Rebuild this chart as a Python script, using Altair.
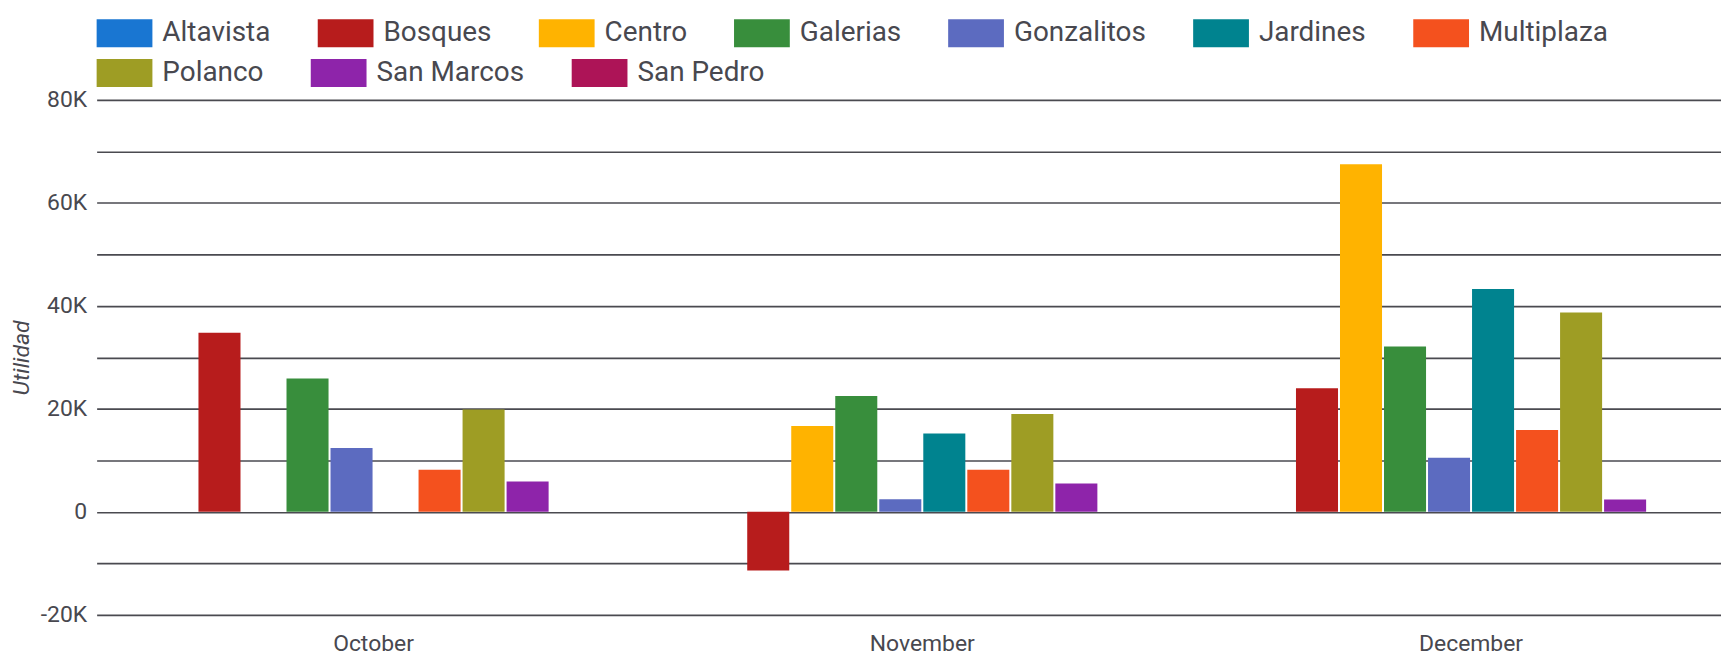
import altair as alt
import pandas as pd

months = ["October", "November", "December"]
stores = ["Altavista", "Bosques", "Centro", "Galerias", "Gonzalitos",
          "Jardines", "Multiplaza", "Polanco", "San Marcos", "San Pedro"]
colors = ["#1976d2", "#b71c1c", "#ffb300", "#388e3c", "#5c6bc0",
          "#00838f", "#f4511e", "#9e9d24", "#8e24aa", "#ad1457"]

# values per store, in month order (None = no bar)
october = [None, 34800, None, 25900, 12400, None, 8200, 19900, 5900, None]
november = [None, -11400, 16700, 22500, 2450, 15200, 8200, 19000, 5500, None]
december = [None, 24000, 67500, 32100, 10500, 43300, 15900, 38700, 2400, None]

rows = []
for m, vals in zip(months, [october, november, december]):
    for s, v in zip(stores, vals):
        if v is not None:
            rows.append({"month": m, "store": s, "value": v})
df = pd.DataFrame(rows)

TEXT = "#48484f"
GRID = "#4a4a50"
FONT = "Roboto"

y_values = list(range(-20000, 80001, 10000))

row1 = stores[:7]
row2 = stores[7:]


def legend(y):
    return alt.Legend(
        orient="none", legendX=0, legendY=y, direction="horizontal",
        title=None, padding=0,
        symbolType="M-1,-0.5H1V0.5H-1Z", symbolSize=3136,
        symbolStrokeWidth=0, symbolOpacity=1,
        labelFont=FONT, labelFontSize=28, labelColor=TEXT,
        labelOffset=10, columnPadding=47,
    )


base = alt.Chart(df).mark_bar().encode(
    x=alt.X(
        "month:N",
        sort=months,
        scale=alt.Scale(paddingInner=0.2015, paddingOuter=0.0808, align=0.652),
        axis=alt.Axis(title=None, labelAngle=0, ticks=False, domain=False,
                      grid=False, labelPadding=18, labelFont=FONT,
                      labelFontSize=23, labelColor=TEXT),
    ),
    xOffset=alt.XOffset(
        "store:N",
        scale=alt.Scale(domain=stores, paddingInner=0.045, paddingOuter=0),
    ),
    y=alt.Y(
        "value:Q",
        scale=alt.Scale(domain=[-20000, 80000], nice=False, zero=False),
        axis=alt.Axis(
            values=y_values,
            labelExpr="datum.value == 0 ? '0' : (datum.value % 20000 == 0 ? (datum.value / 1000) + 'K' : '')",
            grid=True, gridColor=GRID, gridWidth=1.7, gridOpacity=1,
            domain=False, ticks=False, labelPadding=10,
            labelFont=FONT, labelFontSize=23, labelColor=TEXT,
            title="Utilidad", titleFont=FONT, titleFontSize=23,
            titleFontStyle="italic", titleFontWeight="normal",
            titleColor=TEXT, titleAngle=270, titleX=-68, titleY=258.5,
            titleAlign="center", titleBaseline="alphabetic",
        ),
    ),
)

layer1 = base.transform_filter(
    alt.FieldOneOfPredicate(field="store", oneOf=row1)
).encode(
    color=alt.Color("store:N",
                    scale=alt.Scale(domain=row1, range=colors[:7]),
                    legend=legend(-95))
)

layer2 = base.transform_filter(
    alt.FieldOneOfPredicate(field="store", oneOf=row2)
).encode(
    color=alt.Color("store:N",
                    scale=alt.Scale(domain=row2, range=colors[7:]),
                    legend=legend(-55))
)

chart = alt.layer(layer1, layer2).resolve_scale(
    color="independent"
).properties(
    width=1631,
    height=517,
    padding={"left": 89, "top": 91, "right": 0, "bottom": 40},
    autosize=alt.AutoSizeParams(type="none"),
).configure_view(stroke=None)

chart.save("out.html", embed_options={"renderer": "svg", "actions": False})
